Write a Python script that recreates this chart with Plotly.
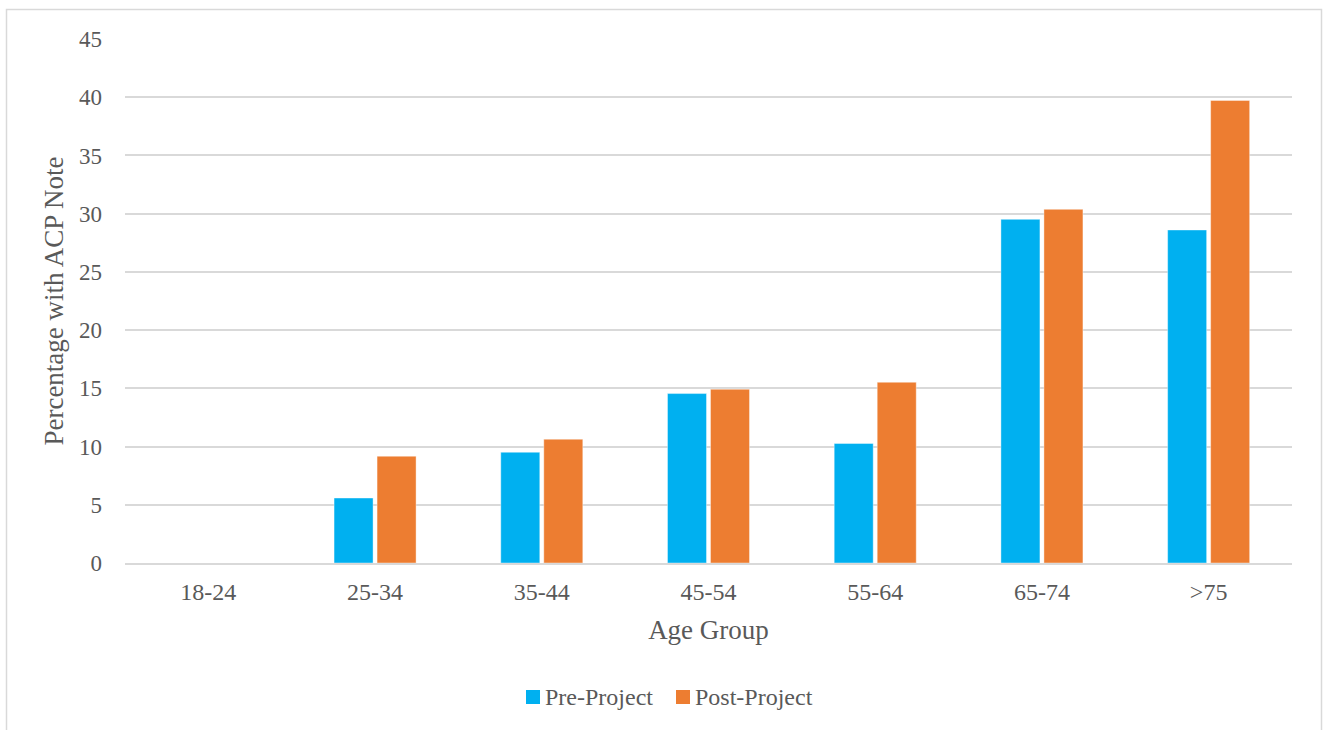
import plotly.graph_objects as go

age_groups = ["18-24", "25-34", "35-44", "45-54", "55-64", "65-74", ">75"]
pre_project = [0, 5.58, 9.51, 14.55, 10.26, 29.51, 28.6]
post_project = [0, 9.17, 10.63, 14.92, 15.52, 30.37, 39.72]
y_ticks = [0, 5, 10, 15, 20, 25, 30, 35, 40, 45]
series_names = ["Pre-Project", "Post-Project"]
series_colors = ["#00B0F0", "#ED7D31"]

W, H = 1331, 730
L, R, T, B = 125, 39, 39, 167
pw, ph = W - L - R, H - T - B

text_color = "#595959"
grid_color = "#D9D9D9"
font_family = "Liberation Serif, Times New Roman, serif"


def px_x(v):
    return (v - L) / pw


def px_y(v):
    return (H - B - v) / ph


fig = go.Figure()
for name, vals, color in zip(series_names, [pre_project, post_project], series_colors):
    fig.add_trace(go.Bar(x=age_groups, y=vals, name=name, showlegend=False,
                         marker=dict(color=color, line=dict(color="rgba(255,255,255,0.4)", width=1))))

# outer chart frame (extends below the page)
fig.add_shape(type="rect", xref="paper", yref="paper",
              x0=px_x(6.5), x1=px_x(1321.5), y0=px_y(740), y1=px_y(9.5),
              line=dict(color=grid_color, width=1.5), fillcolor="rgba(0,0,0,0)", layer="below")

# legend: square swatch followed by the series name
legend_x = [526, 676]
legend_y = 697
for x0, name, color in zip(legend_x, series_names, series_colors):
    fig.add_shape(type="rect", xref="paper", yref="paper",
                  x0=px_x(x0), x1=px_x(x0 + 14), y0=px_y(legend_y + 7), y1=px_y(legend_y - 7),
                  line=dict(width=0), fillcolor=color)
    fig.add_annotation(xref="paper", yref="paper", x=px_x(x0 + 17), y=px_y(legend_y),
                       xanchor="left", yanchor="middle", showarrow=False, text=name,
                       font=dict(size=24, color=text_color, family=font_family))

fig.update_layout(
    width=W, height=H,
    margin=dict(l=L, r=R, t=T, b=B, pad=0),
    paper_bgcolor="white", plot_bgcolor="white",
    barmode="group", bargap=0.484, bargroupgap=0.093,
    font=dict(family=font_family, color=text_color, size=23),
    showlegend=False,
    xaxis=dict(
        title=dict(text="Age Group", font=dict(size=27, color=text_color), standoff=16),
        showgrid=False, showline=True, linecolor=grid_color, linewidth=2,
        ticks="", tickfont=dict(size=24, color=text_color), ticklabelstandoff=6,
    ),
    yaxis=dict(
        title=dict(text="Percentage with ACP Note", font=dict(size=27, color=text_color), standoff=7),
        range=[0, 45], tickvals=y_ticks, showgrid=True, gridcolor=grid_color, gridwidth=2,
        zeroline=False, showline=False, ticks="",
        tickfont=dict(size=23, color=text_color), ticklabelstandoff=22,
    ),
)

fig.write_html("out.html")
